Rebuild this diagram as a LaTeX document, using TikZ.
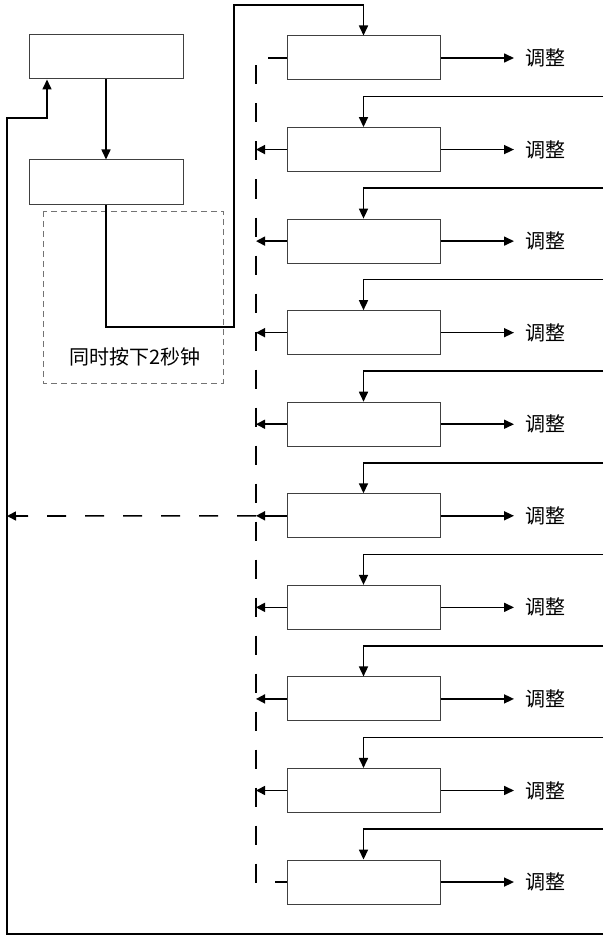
\documentclass[tikz,border=0pt]{standalone}
\usepackage{fontspec}
\newfontfamily\cjk{Noto Sans CJK SC}
\usetikzlibrary{arrows.meta}
\tikzset{
  boxL/.style={draw=black!75, line width=1pt, minimum width=154pt, minimum height=44pt, inner sep=0pt},
  boxR/.style={draw=black!75, line width=1pt, minimum width=153pt, minimum height=44pt, inner sep=0pt},
  wire/.style={line width=1.6pt, black},
  arr/.style={wire, -{Triangle[length=10pt,width=9pt]}},
  arrS/.style={wire, -{Triangle[length=9pt,width=9pt]}},
  ddash/.style={line width=1.6pt, dash pattern=on 19pt off 19pt},
  lbl/.style={font=\cjk\fontsize{20pt}{22pt}\selectfont, inner sep=0pt}
}
\begin{document}
\begin{tikzpicture}[x=1pt,y=-1pt]
\useasboundingbox (0,0) rectangle (603,936);
% left boxes
\node[boxL] (A) at (106,57) {};
\node[boxL] (B) at (106,182) {};
\draw[arr] (A.south) -- (B.north);
% dashed group box
\draw[draw=black!55, line width=1pt, dash pattern=on 6pt off 4pt] (43,211) rectangle (223,383);
\node[lbl] (hold) at (135,357) {同时按下2秒钟};
% right boxes
\foreach \i in {1,...,10}{
  \pgfmathsetmacro\yy{58+91.56*(\i-1)}
  \node[boxR] (r\i) at (363.5,\yy) {};
  \coordinate (e\i) at (514,\yy);
  \node[lbl, anchor=west] (t\i) at (525,\yy) {调整};
  \draw[arr] (r\i.east) -- (e\i);
  \coordinate (d\i) at (256,\yy);
}
% from B to first right box
\coordinate (p1) at (106,327);
\coordinate (p2) at (234,327);
\coordinate (p3) at (234,5);
\coordinate (p4) at (363.5,5);
\draw[arr] (B.south) -- (p1) -- (p2) -- (p3) -- (p4) -- (r1.north);
% feedback lines from right edge
\foreach \i in {2,...,10}{
  \coordinate (f\i) at (603,{58+91.56*(\i-1)-53});
  \draw[arr] (f\i) -| (r\i.north);
}
% left arrows to dashed collector
\foreach \i in {2,...,9}{
  \draw[arrS] (r\i.west) -- (d\i);
}
% dashed collector
\draw[ddash] (r1.west) -- (d1) -- (d10) -- (r10.west);
% dashed return to left loop
\coordinate (lq) at (7,516);
\draw[ddash, -{Triangle[length=9pt,width=9pt]}] (d6) -- (lq);
% outer loop back to A
\coordinate (b1) at (603,934);
\coordinate (b2) at (7,934);
\coordinate (b3) at (7,118);
\coordinate (b4) at (47,118);
\draw[arr] (b1) -- (b2) -- (b3) -- (b4) -- (b4 |- A.south);
\end{tikzpicture}
\end{document}
